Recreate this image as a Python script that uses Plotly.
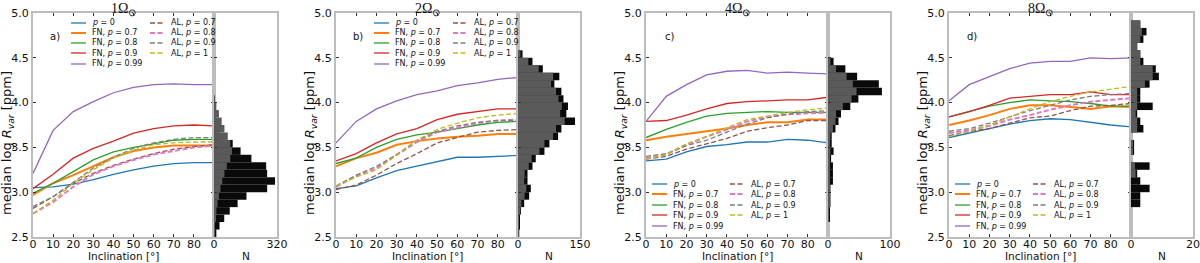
import plotly.graph_objects as go

# ---------------- data ----------------
INCLINATION = [0, 10, 20, 30, 40, 50, 60, 70, 80, 90]

# panel a) 1 Omega_sun
A_P0   = [3.05, 3.06, 3.09, 3.14, 3.20, 3.25, 3.29, 3.32, 3.33, 3.33]
A_FN07 = [2.97, 3.10, 3.19, 3.29, 3.39, 3.46, 3.50, 3.52, 3.52, 3.52]
A_FN08 = [2.99, 3.10, 3.23, 3.36, 3.45, 3.50, 3.54, 3.58, 3.59, 3.59]
A_FN09 = [3.04, 3.20, 3.38, 3.49, 3.57, 3.66, 3.71, 3.74, 3.75, 3.74]
A_FN099 = [3.21, 3.69, 3.90, 4.01, 4.11, 4.17, 4.20, 4.21, 4.20, 4.20]
A_AL07 = [2.82, 2.95, 3.10, 3.21, 3.30, 3.37, 3.43, 3.48, 3.51, 3.53]
A_AL08 = [2.76, 2.89, 3.06, 3.20, 3.29, 3.36, 3.42, 3.46, 3.50, 3.52]
A_AL09 = [2.84, 2.95, 3.11, 3.27, 3.39, 3.49, 3.55, 3.59, 3.61, 3.61]
A_AL1  = [2.76, 2.91, 3.10, 3.25, 3.38, 3.47, 3.53, 3.55, 3.56, 3.56]

# panel b) 2 Omega_sun
B_P0   = [3.04, 3.07, 3.16, 3.24, 3.29, 3.34, 3.39, 3.39, 3.40, 3.41]
B_FN07 = [3.29, 3.38, 3.44, 3.53, 3.57, 3.60, 3.62, 3.63, 3.65, 3.65]
B_FN08 = [3.32, 3.38, 3.50, 3.59, 3.64, 3.67, 3.71, 3.75, 3.78, 3.79]
B_FN09 = [3.35, 3.43, 3.55, 3.65, 3.71, 3.81, 3.87, 3.90, 3.93, 3.93]
B_FN099 = [3.55, 3.79, 3.93, 4.02, 4.09, 4.13, 4.19, 4.22, 4.26, 4.28]
B_AL07 = [3.03, 3.08, 3.19, 3.32, 3.43, 3.55, 3.61, 3.67, 3.69, 3.70]
B_AL08 = [3.06, 3.18, 3.27, 3.42, 3.56, 3.67, 3.72, 3.77, 3.80, 3.81]
B_AL09 = [3.07, 3.19, 3.29, 3.42, 3.58, 3.68, 3.74, 3.78, 3.80, 3.80]
B_AL1  = [3.07, 3.17, 3.25, 3.42, 3.58, 3.70, 3.77, 3.83, 3.86, 3.88]

# panel c) 4 Omega_sun
C_P0   = [3.35, 3.37, 3.45, 3.51, 3.53, 3.56, 3.56, 3.59, 3.58, 3.55]
C_FN07 = [3.58, 3.62, 3.65, 3.68, 3.71, 3.75, 3.78, 3.78, 3.81, 3.81]
C_FN08 = [3.61, 3.70, 3.78, 3.85, 3.88, 3.89, 3.90, 3.89, 3.89, 3.89]
C_FN09 = [3.79, 3.80, 3.86, 3.93, 3.99, 4.01, 4.02, 4.03, 4.03, 4.06]
C_FN099 = [3.79, 4.07, 4.20, 4.31, 4.35, 4.36, 4.33, 4.34, 4.33, 4.32]
C_AL07 = [3.37, 3.40, 3.48, 3.54, 3.60, 3.68, 3.72, 3.75, 3.80, 3.80]
C_AL08 = [3.38, 3.42, 3.53, 3.62, 3.70, 3.79, 3.84, 3.87, 3.88, 3.89]
C_AL09 = [3.40, 3.43, 3.52, 3.58, 3.67, 3.76, 3.83, 3.87, 3.90, 3.91]
C_AL1  = [3.37, 3.42, 3.54, 3.62, 3.72, 3.81, 3.85, 3.89, 3.92, 3.94]

# panel d) 8 Omega_sun
D_P0   = [3.61, 3.66, 3.71, 3.76, 3.80, 3.82, 3.81, 3.78, 3.75, 3.73]
D_FN07 = [3.75, 3.80, 3.86, 3.93, 3.97, 3.97, 3.95, 3.93, 3.96, 3.95]
D_FN08 = [3.84, 3.90, 3.96, 4.00, 4.03, 4.02, 4.01, 3.99, 3.96, 3.96]
D_FN09 = [3.84, 3.90, 3.97, 4.05, 4.07, 4.09, 4.09, 4.12, 4.09, 4.09]
D_FN099 = [4.02, 4.20, 4.29, 4.38, 4.44, 4.46, 4.46, 4.50, 4.49, 4.50]
D_AL07 = [3.63, 3.68, 3.71, 3.77, 3.83, 3.85, 3.91, 3.96, 3.97, 3.99]
D_AL08 = [3.66, 3.69, 3.74, 3.81, 3.86, 3.92, 3.97, 4.01, 4.03, 4.05]
D_AL09 = [3.68, 3.71, 3.77, 3.84, 3.91, 3.97, 4.03, 4.07, 4.09, 4.10]
D_AL1  = [3.62, 3.68, 3.75, 3.84, 3.93, 4.01, 4.07, 4.12, 4.15, 4.18]

# histograms: 30 bins of width 1/12 from 2.5 to 5.0 (counts N)
HIST_LOW = 2.5
HIST_BIN = 1.0 / 12.0
A_HIST_ALL = [12, 28, 52, 80, 120, 165, 270, 310, 270, 265, 190, 135, 95, 30, 10,
              4, 2, 0, 0, 0, 0, 0, 0, 0, 0, 0, 0, 0, 0, 0]
A_HIST_SUB = [2, 4, 7, 12, 18, 25, 33, 42, 53, 65, 83, 91, 83, 70, 53,
              39, 25, 12, 3, 0, 0, 0, 0, 0, 0, 0, 0, 0, 0, 0]
B_HIST_ALL = [2, 3, 4, 7, 15, 27, 31, 23, 23, 35, 43, 64, 76, 97, 105,
              138, 117, 121, 110, 105, 88, 100, 60, 35, 11, 0, 0, 0, 0, 0]
B_HIST_SUB = [1, 1, 2, 4, 8, 16, 20, 15, 16, 26, 33, 52, 64, 85, 92,
              113, 102, 106, 98, 92, 80, 85, 50, 25, 6, 0, 0, 0, 0, 0]
C_HIST_ALL = [0, 0, 3, 3, 4, 4, 4, 8, 8, 8, 5, 9, 6, 6, 12,
              17, 21, 36, 49, 87, 82, 47, 28, 9, 0, 0, 0, 0, 0, 0]
C_HIST_SUB = [0, 0, 1, 1, 2, 2, 2, 3, 3, 3, 3, 4, 3, 4, 8,
              12, 13, 24, 38, 46, 40, 30, 13, 4, 0, 0, 0, 0, 0, 0]
D_HIST_ALL = [0, 0, 0, 0, 3, 3, 6, 3, 2, 6, 0, 1, 1, 0, 4,
              3, 2, 7, 3, 3, 6, 9, 8, 4, 3, 2, 4, 5, 3, 0]
D_HIST_SUB = [0, 0, 0, 0, 0, 0, 0, 0, 1.5, 1.3, 0, 0.5, 0.5, 0, 2,
              2, 1.5, 2, 2, 2, 4.5, 7, 7, 3, 3, 2, 3, 3.5, 3, 0]

PANEL_TITLES = ["1Ω<sub>⊙</sub>", "2Ω<sub>⊙</sub>", "4Ω<sub>⊙</sub>", "8Ω<sub>⊙</sub>"]
PANEL_LABELS = ["a)", "b)", "c)", "d)"]
N_MAX = [320, 150, 100, 20]
Y_TICKS = [2.5, 3.0, 3.5, 4.0, 4.5, 5.0]
Y_TICKTEXT = ["2.5", "3.0", "3.5", "4.0", "4.5", "5.0"]
X_TICKS = [0, 10, 20, 30, 40, 50, 60, 70, 80]
X_TITLE = "Inclination [°]"
Y_TITLE = "median log <i>R</i><sub><i>var</i></sub> [ppm]"
HIST_TITLE = "N"

SERIES_NAMES = ["<i>p</i> = 0", "FN, <i>p</i> = 0.7", "FN, <i>p</i> = 0.8",
                "FN, <i>p</i> = 0.9", "FN, <i>p</i> = 0.99",
                "AL, <i>p</i> = 0.7", "AL, <i>p</i> = 0.8",
                "AL, <i>p</i> = 0.9", "AL, <i>p</i> = 1"]
COLORS = ["#1f77b4", "#ff7f0e", "#2ca02c", "#d62728", "#9467bd",
          "#8c564b", "#e377c2", "#7f7f7f", "#bcbd22"]
DASHED = [False, False, False, False, False, True, True, True, True]
WIDTHS = [1.3, 2.0, 1.3, 1.3, 1.3, 1.3, 2.0, 1.3, 1.3]

PANEL_LINES = [
    [A_P0, A_FN07, A_FN08, A_FN09, A_FN099, A_AL07, A_AL08, A_AL09, A_AL1],
    [B_P0, B_FN07, B_FN08, B_FN09, B_FN099, B_AL07, B_AL08, B_AL09, B_AL1],
    [C_P0, C_FN07, C_FN08, C_FN09, C_FN099, C_AL07, C_AL08, C_AL09, C_AL1],
    [D_P0, D_FN07, D_FN08, D_FN09, D_FN099, D_AL07, D_AL08, D_AL09, D_AL1],
]
PANEL_HIST = [(A_HIST_ALL, A_HIST_SUB), (B_HIST_ALL, B_HIST_SUB),
              (C_HIST_ALL, C_HIST_SUB), (D_HIST_ALL, D_HIST_SUB)]
BIN_CENTERS = [HIST_LOW + (k + 0.5) * HIST_BIN for k in range(len(A_HIST_ALL))]

# ---------------- layout (pixels) ----------------
W, H = 1200, 263
LINE_X = [(33, 214), (336, 518), (646, 828), (949, 1131)]
HIST_X = [(214, 277), (518, 580), (828, 890), (1131, 1193)]
Y_TOP, Y_BOT = 13, 237
LEG_ROWS_TOP = [23, 33, 43, 53, 64]
LEG_ROWS_BOT = [184, 194, 205, 215, 226]
LEG_COLS_TOP = (38, 117)
LEG_COLS_BOT = (6, 84)

def fx(p):
    return p / W

def fy(p):
    return 1 - p / H

SPINE = "#bdbdbd"
TICKC = "#333333"
FONT = "DejaVu Sans"
TXT = "#111111"

fig = go.Figure()
layout = dict(
    width=W, height=H, autosize=False,
    margin=dict(l=0, r=0, t=0, b=0),
    paper_bgcolor="white", plot_bgcolor="white",
    barmode="overlay", showlegend=False,
    template="none",
    font=dict(family=FONT, size=11, color=TXT),
)
annotations = []
shapes = []
ydom = [fy(Y_BOT), fy(Y_TOP)]

def note(text, x, y, size, xanchor="center", yanchor="middle", family=FONT, angle=0):
    annotations.append(dict(text=text, x=x, y=y, xref="paper", yref="paper",
                            xanchor=xanchor, yanchor=yanchor, showarrow=False,
                            textangle=angle, borderpad=0,
                            font=dict(family=family, size=size, color=TXT)))

for i in range(4):
    ln = 2 * i + 1
    hn = 2 * i + 2
    lx = "x" if ln == 1 else f"x{ln}"
    ly = "y" if ln == 1 else f"y{ln}"
    hx, hy = f"x{hn}", f"y{hn}"
    for s, vals in enumerate(PANEL_LINES[i]):
        fig.add_trace(go.Scatter(
            x=INCLINATION, y=vals, mode="lines", name=SERIES_NAMES[s],
            line=dict(color=COLORS[s], width=WIDTHS[s],
                      dash="5px,2.5px" if DASHED[s] else "solid"),
            xaxis=lx, yaxis=ly, showlegend=False))
    h_all, h_sub = PANEL_HIST[i]
    fig.add_trace(go.Bar(y=BIN_CENTERS, x=h_all, orientation="h", width=HIST_BIN,
                         marker=dict(color="#0a0a0a", line=dict(width=0)),
                         xaxis=hx, yaxis=hy, showlegend=False, name="all"))
    fig.add_trace(go.Bar(y=BIN_CENTERS, x=h_sub, orientation="h", width=HIST_BIN,
                         marker=dict(color="#5a5a5a", line=dict(width=0)),
                         xaxis=hx, yaxis=hy, showlegend=False, name="subset"))

    x0, x1 = LINE_X[i]
    h0, h1 = HIST_X[i]
    common = dict(showgrid=False, zeroline=False, showline=True, linecolor=SPINE,
                  linewidth=2, ticks="inside", ticklen=3, tickwidth=1, tickcolor=TICKC,
                  tickfont=dict(family=FONT, size=11, color=TXT), automargin=False)
    layout["xaxis" if ln == 1 else f"xaxis{ln}"] = dict(
        common, domain=[fx(x0), fx(x1)], range=[0, 90], tickvals=X_TICKS,
        mirror="ticks", anchor=ly, ticklabelstandoff=-4)
    layout["yaxis" if ln == 1 else f"yaxis{ln}"] = dict(
        common, domain=ydom, range=[2.5, 5.0], tickvals=Y_TICKS, ticktext=Y_TICKTEXT,
        mirror="ticks", anchor=lx)
    layout[f"xaxis{hn}"] = dict(
        common, domain=[fx(h0), fx(h1)], range=[0, N_MAX[i]],
        tickvals=[0, N_MAX[i]], ticks="", mirror=True, anchor=hy,
        ticklabelstandoff=-4)
    layout[f"yaxis{hn}"] = dict(
        common, domain=ydom, range=[2.5, 5.0], tickvals=Y_TICKS,
        showticklabels=False, mirror=True, anchor=hx)

    # axis titles
    note(X_TITLE, fx((x0 + x1) / 2), 0.0, 10.5, yanchor="bottom")
    note(HIST_TITLE, fx((h0 + h1) / 2), 0.0, 10.5, yanchor="bottom")
    note(Y_TITLE, fx(x0 - 26), fy(143), 13, angle=-90)

    # panel title and label
    note(PANEL_TITLES[i], fx((x0 + x1) / 2), 1.0, 14, yanchor="top",
         family="Liberation Serif")
    lab_x = x0 + (22 if i < 2 else 23)
    note(PANEL_LABELS[i], fx(lab_x), fy(37), 10)

    # legend (two columns)
    rows = LEG_ROWS_TOP if i < 2 else LEG_ROWS_BOT
    cols = LEG_COLS_TOP if i < 2 else LEG_COLS_BOT
    for s in range(9):
        col = 0 if s < 5 else 1
        row = s if s < 5 else s - 5
        lx0 = x0 + cols[col]
        yy = rows[row]
        shapes.append(dict(type="line", xref="paper", yref="paper",
                           x0=fx(lx0), x1=fx(lx0 + 15), y0=fy(yy), y1=fy(yy),
                           line=dict(color=COLORS[s], width=WIDTHS[s],
                                     dash="5px,2.5px" if DASHED[s] else "solid")))
        note(SERIES_NAMES[s], fx(lx0 + 20), fy(yy), 8, xanchor="left")

layout["annotations"] = annotations
layout["shapes"] = shapes
fig.update_layout(**layout)
fig.write_html("out.html", config={"displayModeBar": False},
               post_script="document.body.style.margin='0';document.body.style.overflow='hidden';")
